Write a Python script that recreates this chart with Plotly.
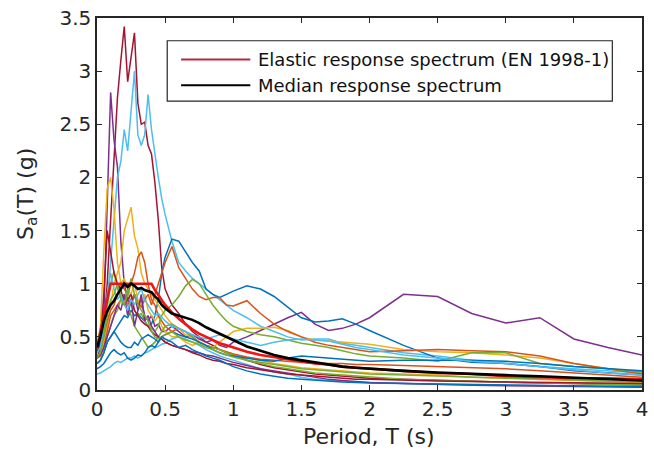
import plotly.graph_objects as go

# Period grid (s)
periods = [0, 0.025, 0.05, 0.075, 0.1, 0.125, 0.15, 0.175, 0.2, 0.225, 0.25, 0.275, 0.3, 0.325, 0.35, 0.375,
           0.4, 0.425, 0.45, 0.475, 0.5, 0.55, 0.6, 0.65, 0.7, 0.75, 0.8, 0.85, 0.9, 0.95, 1.0,
           1.1, 1.2, 1.3, 1.4, 1.5, 1.6, 1.7, 1.8, 1.9, 2.0, 2.25, 2.5, 2.75, 3.0, 3.25, 3.5, 3.75, 4.0]

rec01 = [0.35, 0.45, 0.6, 1.0, 1.6, 2.2, 2.75, 3.1, 3.42, 2.9, 3.15, 3.36, 2.7, 2.5, 2.52, 2.3,
         2.22, 1.95, 1.6, 1.15, 0.95, 0.8, 0.72, 0.62, 0.55, 0.5, 0.45, 0.42, 0.38, 0.35, 0.33,
         0.28, 0.24, 0.21, 0.19, 0.17, 0.15, 0.14, 0.13, 0.12, 0.11, 0.1, 0.09, 0.08, 0.07, 0.065, 0.06, 0.055, 0.05]
rec02 = [0.3, 0.4, 0.7, 1.8, 2.8, 2.35, 2.1, 1.4, 1.0, 0.85, 0.8, 0.9, 0.75, 0.85, 0.7, 0.65,
         0.7, 0.6, 0.62, 0.55, 0.55, 0.6, 0.55, 0.5, 0.52, 0.48, 0.45, 0.47, 0.42, 0.4, 0.45,
         0.5, 0.56, 0.62, 0.68, 0.73, 0.62, 0.56, 0.58, 0.62, 0.68, 0.9, 0.88, 0.72, 0.63, 0.68, 0.48, 0.4, 0.33]
rec03 = [0.3, 0.35, 0.5, 0.8, 1.2, 1.6, 2.0, 2.15, 2.45, 2.25, 2.6, 3.0, 2.4, 2.3, 2.4, 2.78,
         2.45, 2.2, 2.0, 1.8, 1.65, 1.4, 1.2, 1.12, 1.05, 1.0, 0.95, 0.9, 0.85, 0.8, 0.75,
         0.68, 0.6, 0.55, 0.5, 0.47, 0.48, 0.48, 0.44, 0.42, 0.4, 0.35, 0.32, 0.28, 0.25, 0.22, 0.2, 0.18, 0.16]
rec04 = [0.25, 0.28, 0.35, 0.45, 0.5, 0.55, 0.6, 0.65, 0.7, 0.68, 0.75, 0.7, 0.72, 0.68, 0.65, 0.6,
         0.62, 0.7, 0.85, 1.1, 1.25, 1.42, 1.4, 1.3, 1.2, 1.12, 0.95, 0.9, 0.87, 0.9, 0.93,
         0.98, 0.95, 0.88, 0.78, 0.68, 0.64, 0.65, 0.67, 0.62, 0.56, 0.42, 0.3, 0.26, 0.25, 0.22, 0.18, 0.16, 0.14]
rec05 = [0.4, 0.6, 1.3, 1.9, 2.0, 1.7, 1.2, 1.0, 1.05, 0.95, 0.9, 1.0, 0.85, 0.8, 0.9, 0.75,
         0.7, 0.65, 0.7, 0.6, 0.55, 0.5, 0.5, 0.45, 0.42, 0.45, 0.42, 0.4, 0.45, 0.5, 0.55,
         0.58, 0.58, 0.59, 0.56, 0.5, 0.47, 0.46, 0.45, 0.44, 0.43, 0.38, 0.36, 0.35, 0.33, 0.3, 0.25, 0.2, 0.17]
rec06 = [0.3, 0.35, 0.45, 0.6, 0.8, 1.0, 1.1, 1.2, 1.5, 1.6, 1.72, 1.45, 1.33, 1.1, 1.0, 0.95,
         0.9, 0.85, 0.8, 0.75, 0.7, 0.62, 0.58, 0.52, 0.5, 0.45, 0.42, 0.4, 0.38, 0.36, 0.34,
         0.3, 0.28, 0.25, 0.23, 0.21, 0.2, 0.19, 0.18, 0.17, 0.16, 0.15, 0.14, 0.12, 0.11, 0.1, 0.09, 0.08, 0.07]
rec07 = [0.3, 0.32, 0.4, 0.55, 0.7, 0.75, 0.8, 0.85, 0.9, 0.8, 0.85, 0.9, 0.82, 0.78, 0.85, 0.9,
         0.8, 0.9, 1.0, 1.1, 1.2, 1.35, 1.15, 1.05, 0.95, 0.88, 0.85, 0.87, 0.87, 0.8, 0.79,
         0.84, 0.72, 0.62, 0.55, 0.5, 0.45, 0.42, 0.4, 0.38, 0.36, 0.37, 0.38, 0.37, 0.36, 0.32, 0.25, 0.2, 0.15]
rec08 = [0.35, 0.4, 0.5, 0.65, 0.75, 0.8, 0.9, 1.0, 0.95, 0.9, 1.0, 1.1, 1.25, 1.3, 1.2, 1.0,
         0.85, 0.8, 0.7, 0.65, 0.6, 0.55, 0.58, 0.55, 0.5, 0.45, 0.42, 0.4, 0.38, 0.36, 0.34,
         0.31, 0.29, 0.28, 0.27, 0.26, 0.25, 0.25, 0.25, 0.24, 0.24, 0.23, 0.22, 0.21, 0.2, 0.18, 0.16, 0.14, 0.12]
rec09 = [0.3, 0.35, 0.55, 0.8, 1.0, 1.12, 0.95, 0.9, 0.85, 0.95, 0.8, 0.75, 0.7, 0.72, 0.65, 0.6,
         0.58, 0.55, 0.6, 0.7, 0.75, 0.8, 0.88, 0.98, 1.04, 1.0, 0.9, 0.8, 0.72, 0.65, 0.6,
         0.55, 0.52, 0.5, 0.47, 0.44, 0.42, 0.4, 0.37, 0.34, 0.32, 0.3, 0.27, 0.35, 0.35, 0.25, 0.22, 0.2, 0.17]
rec10 = [0.25, 0.28, 0.35, 0.5, 0.6, 0.7, 0.75, 0.85, 0.9, 0.8, 0.7, 0.6, 0.55, 0.5, 0.45, 0.4,
         0.42, 0.45, 0.5, 0.55, 0.6, 0.62, 0.58, 0.55, 0.5, 0.45, 0.42, 0.4, 0.38, 0.35, 0.33,
         0.28, 0.25, 0.22, 0.2, 0.18, 0.16, 0.15, 0.14, 0.13, 0.12, 0.1, 0.09, 0.08, 0.07, 0.065, 0.06, 0.05, 0.05]
rec11 = [0.25, 0.28, 0.35, 0.45, 0.5, 0.55, 0.5, 0.45, 0.42, 0.4, 0.4, 0.45, 0.42, 0.48, 0.5, 0.52,
         0.5, 0.48, 0.45, 0.5, 0.52, 0.55, 0.52, 0.5, 0.48, 0.45, 0.42, 0.38, 0.35, 0.33, 0.32,
         0.3, 0.28, 0.27, 0.3, 0.32, 0.31, 0.3, 0.29, 0.28, 0.27, 0.28, 0.28, 0.28, 0.27, 0.25, 0.22, 0.2, 0.18]
rec12 = [0.15, 0.16, 0.18, 0.2, 0.22, 0.25, 0.27, 0.26, 0.28, 0.3, 0.3, 0.32, 0.3, 0.32, 0.35, 0.36,
         0.38, 0.4, 0.41, 0.43, 0.44, 0.48, 0.5, 0.48, 0.45, 0.42, 0.38, 0.35, 0.32, 0.3, 0.28,
         0.24, 0.2, 0.17, 0.15, 0.12, 0.1, 0.09, 0.08, 0.075, 0.07, 0.06, 0.055, 0.05, 0.045, 0.04, 0.04, 0.035, 0.03]
rec13 = [0.3, 0.33, 0.4, 0.5, 0.6, 0.7, 0.8, 0.75, 0.9, 0.7, 0.85, 0.6, 0.75, 0.9, 0.65, 0.7,
         0.6, 0.55, 0.5, 0.48, 0.45, 0.42, 0.4, 0.38, 0.36, 0.35, 0.33, 0.32, 0.3, 0.28, 0.26,
         0.23, 0.2, 0.18, 0.16, 0.14, 0.12, 0.1, 0.09, 0.08, 0.07, 0.06, 0.05, 0.045, 0.04, 0.035, 0.03, 0.03, 0.025]
rec14 = [0.35, 0.45, 0.9, 1.5, 1.3, 1.1, 1.0, 0.95, 0.8, 0.85, 0.9, 0.75, 0.7, 0.65, 0.62, 0.6,
         0.55, 0.52, 0.5, 0.48, 0.45, 0.42, 0.4, 0.38, 0.35, 0.33, 0.3, 0.28, 0.27, 0.25, 0.24,
         0.21, 0.19, 0.17, 0.15, 0.14, 0.13, 0.12, 0.11, 0.1, 0.1, 0.09, 0.085, 0.08, 0.075, 0.07, 0.065, 0.06, 0.06]
rec15 = [0.35, 0.4, 0.6, 0.9, 1.1, 0.95, 0.85, 0.9, 0.8, 0.75, 0.85, 0.8, 0.9, 0.95, 0.85, 0.8,
         0.75, 0.7, 0.72, 0.68, 0.65, 0.6, 0.58, 0.55, 0.52, 0.5, 0.48, 0.5, 0.52, 0.5, 0.48,
         0.45, 0.42, 0.45, 0.47, 0.48, 0.47, 0.46, 0.43, 0.4, 0.38, 0.33, 0.3, 0.27, 0.25, 0.22, 0.19, 0.16, 0.14]
rec16 = [0.3, 0.35, 0.5, 0.7, 0.85, 0.9, 1.0, 0.85, 0.8, 0.9, 1.05, 0.9, 0.8, 0.75, 0.7, 0.65,
         0.55, 0.5, 0.48, 0.5, 0.52, 0.55, 0.5, 0.47, 0.45, 0.43, 0.4, 0.38, 0.35, 0.33, 0.31,
         0.28, 0.26, 0.24, 0.22, 0.2, 0.19, 0.18, 0.17, 0.16, 0.15, 0.14, 0.13, 0.12, 0.11, 0.1, 0.09, 0.085, 0.08]
rec17 = [0.2, 0.22, 0.25, 0.3, 0.35, 0.38, 0.35, 0.33, 0.35, 0.3, 0.28, 0.3, 0.33, 0.32, 0.35, 0.4,
         0.42, 0.4, 0.45, 0.5, 0.48, 0.45, 0.4, 0.42, 0.38, 0.35, 0.32, 0.3, 0.28, 0.25, 0.22,
         0.18, 0.15, 0.13, 0.11, 0.1, 0.09, 0.08, 0.075, 0.07, 0.065, 0.06, 0.055, 0.05, 0.045, 0.04, 0.04, 0.035, 0.035]

records = [rec01, rec02, rec03, rec04, rec05, rec06, rec07, rec08, rec09,
           rec10, rec11, rec12, rec13, rec14, rec15, rec16, rec17]
record_colors = ["#A2142F", "#7E2F8E", "#4DBEEE", "#0072BD", "#EDB120", "#EDB120", "#D95319", "#D95319",
                 "#77AC30", "#77AC30", "#0072BD", "#4DBEEE", "#7E2F8E", "#A2142F", "#4DBEEE", "#77AC30", "#0072BD"]

median_sa = [0.4, 0.5, 0.65, 0.74, 0.8, 0.84, 0.9, 0.95, 1.0, 0.97, 1.0, 0.98, 0.95, 0.96, 0.94, 0.93,
             0.92, 0.88, 0.85, 0.8, 0.77, 0.72, 0.7, 0.68, 0.66, 0.63, 0.59, 0.56, 0.53, 0.5, 0.47,
             0.41, 0.37, 0.33, 0.3, 0.28, 0.26, 0.24, 0.22, 0.21, 0.2, 0.18, 0.165, 0.15, 0.14, 0.13, 0.115, 0.1, 0.09]
elastic_sa = [0.4, 0.55, 0.7, 0.85, 1.0, 1.0, 1.0, 1.0, 1.0, 1.0, 1.0, 1.0, 1.0, 1.0, 1.0, 1.0,
              1.0, 0.94, 0.89, 0.84, 0.8, 0.73, 0.67, 0.62, 0.57, 0.53, 0.5, 0.47, 0.44, 0.42, 0.4,
              0.36, 0.33, 0.31, 0.29, 0.27, 0.25, 0.24, 0.22, 0.21, 0.2, 0.18, 0.16, 0.15, 0.13, 0.12, 0.11, 0.11, 0.1]

x_ticks = [0, 0.5, 1, 1.5, 2, 2.5, 3, 3.5, 4]
y_ticks = [0, 0.5, 1, 1.5, 2, 2.5, 3, 3.5]
legend_labels = ["Elastic response spectrum (EN 1998-1)", "Median response spectrum"]
legend_colors = ["#b8283f", "#000000"]

W, H = 654, 461
L, R, T, B = 97, 6, 14, 71
pw, ph = W - L - R, H - T - B

def px(xp):
    return (xp - L) / pw

def py(yp):
    return (H - B - yp) / ph

FONT = "DejaVu Sans"
TXT = "#262626"

fig = go.Figure()
for sa, col in zip(records, record_colors):
    fig.add_trace(go.Scatter(x=periods, y=sa, mode="lines", line=dict(color=col, width=1.5),
                             showlegend=False, hoverinfo="skip"))
fig.add_trace(go.Scatter(x=periods, y=elastic_sa, mode="lines", line=dict(color="#f01414", width=2.6),
                         showlegend=False))
fig.add_trace(go.Scatter(x=periods, y=median_sa, mode="lines", line=dict(color="#000000", width=2.6),
                         showlegend=False))

axis_common = dict(showline=True, linecolor=TXT, linewidth=1.5, mirror="ticks", ticks="inside",
                   ticklen=5, tickwidth=1.2, tickcolor=TXT, showgrid=False, zeroline=False,
                   tickfont=dict(family=FONT, size=20, color=TXT))
fig.update_xaxes(range=[0, 4], tickvals=x_ticks, ticktext=[f"{v:g}" for v in x_ticks], **axis_common)
fig.update_yaxes(range=[0, 3.5], tickvals=y_ticks, ticktext=[f"{v:g}" for v in y_ticks], **axis_common)

shapes = [dict(type="rect", xref="paper", yref="paper", x0=px(168), x1=px(618), y0=py(98), y1=py(37),
               line=dict(color=TXT, width=1.2), fillcolor="white", layer="above")]
annotations = []
for i, (lab, col) in enumerate(zip(legend_labels, legend_colors)):
    yy = 56 + i * 26
    shapes.append(dict(type="line", xref="paper", yref="paper", x0=px(182), x1=px(252), y0=py(yy), y1=py(yy),
                       line=dict(color=col, width=2), layer="above"))
    annotations.append(dict(xref="paper", yref="paper", x=px(258), y=py(yy), text=lab, showarrow=False,
                            xanchor="left", yanchor="middle", font=dict(family=FONT, size=18, color="#111111")))

annotations.append(dict(xref="paper", yref="paper", x=px(372), y=py(437), text="Period, T (s)", showarrow=False,
                        xanchor="center", yanchor="middle", font=dict(family=FONT, size=22, color=TXT)))
annotations.append(dict(xref="paper", yref="paper", x=px(26), y=py(192), text="S<sub>a</sub>(T) (g)",
                        showarrow=False, textangle=-90, xanchor="center", yanchor="middle",
                        font=dict(family=FONT, size=22, color=TXT)))

fig.update_layout(width=W, height=H, margin=dict(l=L, r=R, t=T, b=B), plot_bgcolor="white",
                  paper_bgcolor="white", showlegend=False, shapes=shapes, annotations=annotations)

fig.write_html("out.html")
